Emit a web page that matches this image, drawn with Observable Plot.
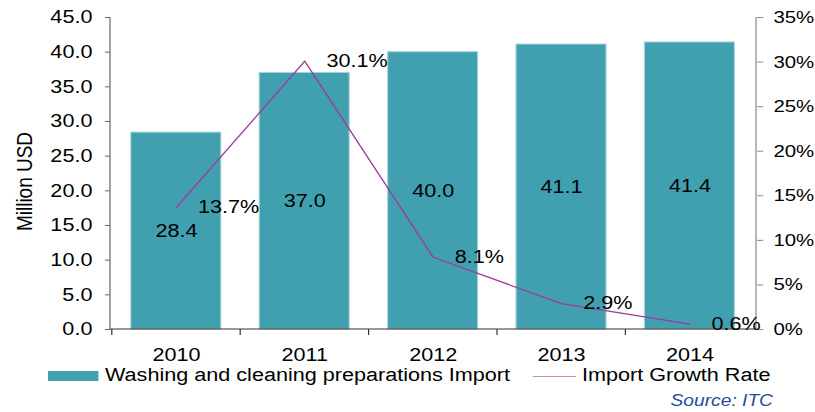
<!DOCTYPE html>
<html>
<head>
<meta charset="utf-8">
<script src="https://cdn.jsdelivr.net/npm/d3@7"></script>
<script src="https://cdn.jsdelivr.net/npm/@observablehq/plot@0.6"></script>
<style>
  body { margin: 0; background: #fff; font-family: "Liberation Sans", Arial, sans-serif; }
  #wrap { position: relative; width: 815px; height: 412px; overflow: hidden; background: #fff; }
  #chart { position: absolute; left: 0; top: 0; }
  #legend { position: absolute; left: 0; top: 362px; width: 679.17px; height: 50px; transform: scaleX(1.2); transform-origin: 0 0; }
  #legend div { position: absolute; white-space: nowrap; }
  .lt { font-size: 18px; line-height: 18px; color: #000; }
  .src { font-size: 16px; line-height: 16px; font-style: italic; color: #1f4e9a; }
</style>
</head>
<body>
<div id="wrap"><div id="chart"></div><div id="legend"></div></div>
<script>
// ---- data ----
const years = ["2010", "2011", "2012", "2013", "2014"];
const importValues = [28.4, 37.0, 40.0, 41.1, 41.4];   // Million USD
const growthRates = [13.7, 30.1, 8.1, 2.9, 0.6];       // %
const leftTicks = [0, 5, 10, 15, 20, 25, 30, 35, 40, 45];
const rightTicks = [0, 5, 10, 15, 20, 25, 30, 35];
const seriesNames = ["Washing and cleaning preparations Import", "Import Growth Rate"];
const yAxisTitle = "Million USD";
const sourceText = "Source: ITC";

// ---- layout ----
const SX = 1.2;                 // horizontal stretch of the original picture
const W = 815, H = 362;
const innerW = W / SX;
const mL = 110 / SX, mR = 59 / SX, mT = 17, mB = 33;
const leftMax = 45, rightMax = 35, k = leftMax / rightMax;
const barColor = "#41a0b0";
const lineColor = "#a0399c";

const data = years.map((year, i) => ({year, value: importValues[i], rate: growthRates[i], rateY: growthRates[i] * k}));
const step = (innerW - mL - mR) / years.length;

function axisLines(index, scales, values, dims) {
  const g = d3.create("svg:g");
  const y0 = scales.y(0), yTop = scales.y(leftMax);
  const xl = dims.marginLeft, xr = dims.width - dims.marginRight;
  g.append("line").attr("x1", xl).attr("x2", xl).attr("y1", yTop).attr("y2", y0).attr("stroke", "#666");
  g.append("line").attr("x1", xr).attr("x2", xr).attr("y1", yTop).attr("y2", y0).attr("stroke", "#888");
  g.append("line").attr("x1", xl).attr("x2", xr).attr("y1", y0).attr("y2", y0).attr("stroke", "#333");
  return g.node();
}

const svg = Plot.plot({
  width: innerW,
  height: H,
  marginLeft: mL, marginRight: mR, marginTop: mT, marginBottom: mB,
  style: {fontFamily: "'Liberation Sans', Arial, sans-serif", fontSize: "18px", color: "#000", background: "#fff", overflow: "visible"},
  x: {type: "band", domain: years, paddingInner: 0.3, paddingOuter: 0.15},
  y: {domain: [0, leftMax]},
  marks: [
    Plot.barY(data, {x: "year", y: "value", fill: barColor, stroke: "#a6d3db", strokeWidth: 1}),
    axisLines,
    Plot.axisY(leftTicks, {anchor: "left", tickSize: 5 / SX, tickPadding: 11, tickFormat: d3.format(".1f"), stroke: "#666", label: null, fontSize: 18}),
    Plot.axisY(rightTicks.map(p => p * k), {anchor: "right", tickSize: 6 / SX, tickPadding: 9, tickFormat: d => Math.round(d / k) + "%", stroke: "#888", label: null, fontSize: 17}),
    Plot.axisX({tickSize: 0, tickPadding: 19, label: null, fontSize: 18}),
    Plot.axisX({tickSize: 6, tickFormat: () => "", dx: -step / 2, stroke: "#333", label: null}),
    Plot.line(data, {x: "year", y: "rateY", stroke: lineColor, strokeWidth: 1.2}),
    Plot.text(data, {x: "year", y: d => d.value / 2, text: d => d.value.toFixed(1), fontSize: 18, fill: "#000"}),
    Plot.text(data, {x: "year", y: "rateY", text: d => d.rate.toFixed(1) + "%", textAnchor: "start", dx: 18, fontSize: 18, fill: "#000"}),
    Plot.text([yAxisTitle], {frameAnchor: "left", textAnchor: "middle", lineAnchor: "middle", rotate: -90, dx: (24 - 110) / SX, dy: 8, fontSize: 19, fill: "#000"})
  ]
});

svg.setAttribute("width", W);
svg.setAttribute("height", H);
svg.setAttribute("preserveAspectRatio", "none");
svg.style.width = W + "px";
svg.style.height = H + "px";
svg.style.maxWidth = "none";
document.getElementById("chart").appendChild(svg);

// ---- legend & source (HTML, below the SVG) ----
const legend = document.getElementById("legend");
function add(cls, style, text) {
  const d = document.createElement("div");
  if (cls) d.className = cls;
  Object.assign(d.style, style);
  if (text) d.textContent = text;
  legend.appendChild(d);
}
add(null, {left: (48 / SX) + "px", top: "9px", width: (50 / SX) + "px", height: "10px", background: barColor});
add("lt", {left: (105 / SX) + "px", top: "4px"}, seriesNames[0]);
add(null, {left: (533 / SX) + "px", top: "13.5px", width: (43 / SX) + "px", height: "0", borderTop: "1.5px solid #c98bc6"});
add("lt", {left: (582 / SX) + "px", top: "4px"}, seriesNames[1]);
add("src", {right: (innerW - 773 / SX) + "px", top: "31px"}, sourceText);
</script>
</body>
</html>
